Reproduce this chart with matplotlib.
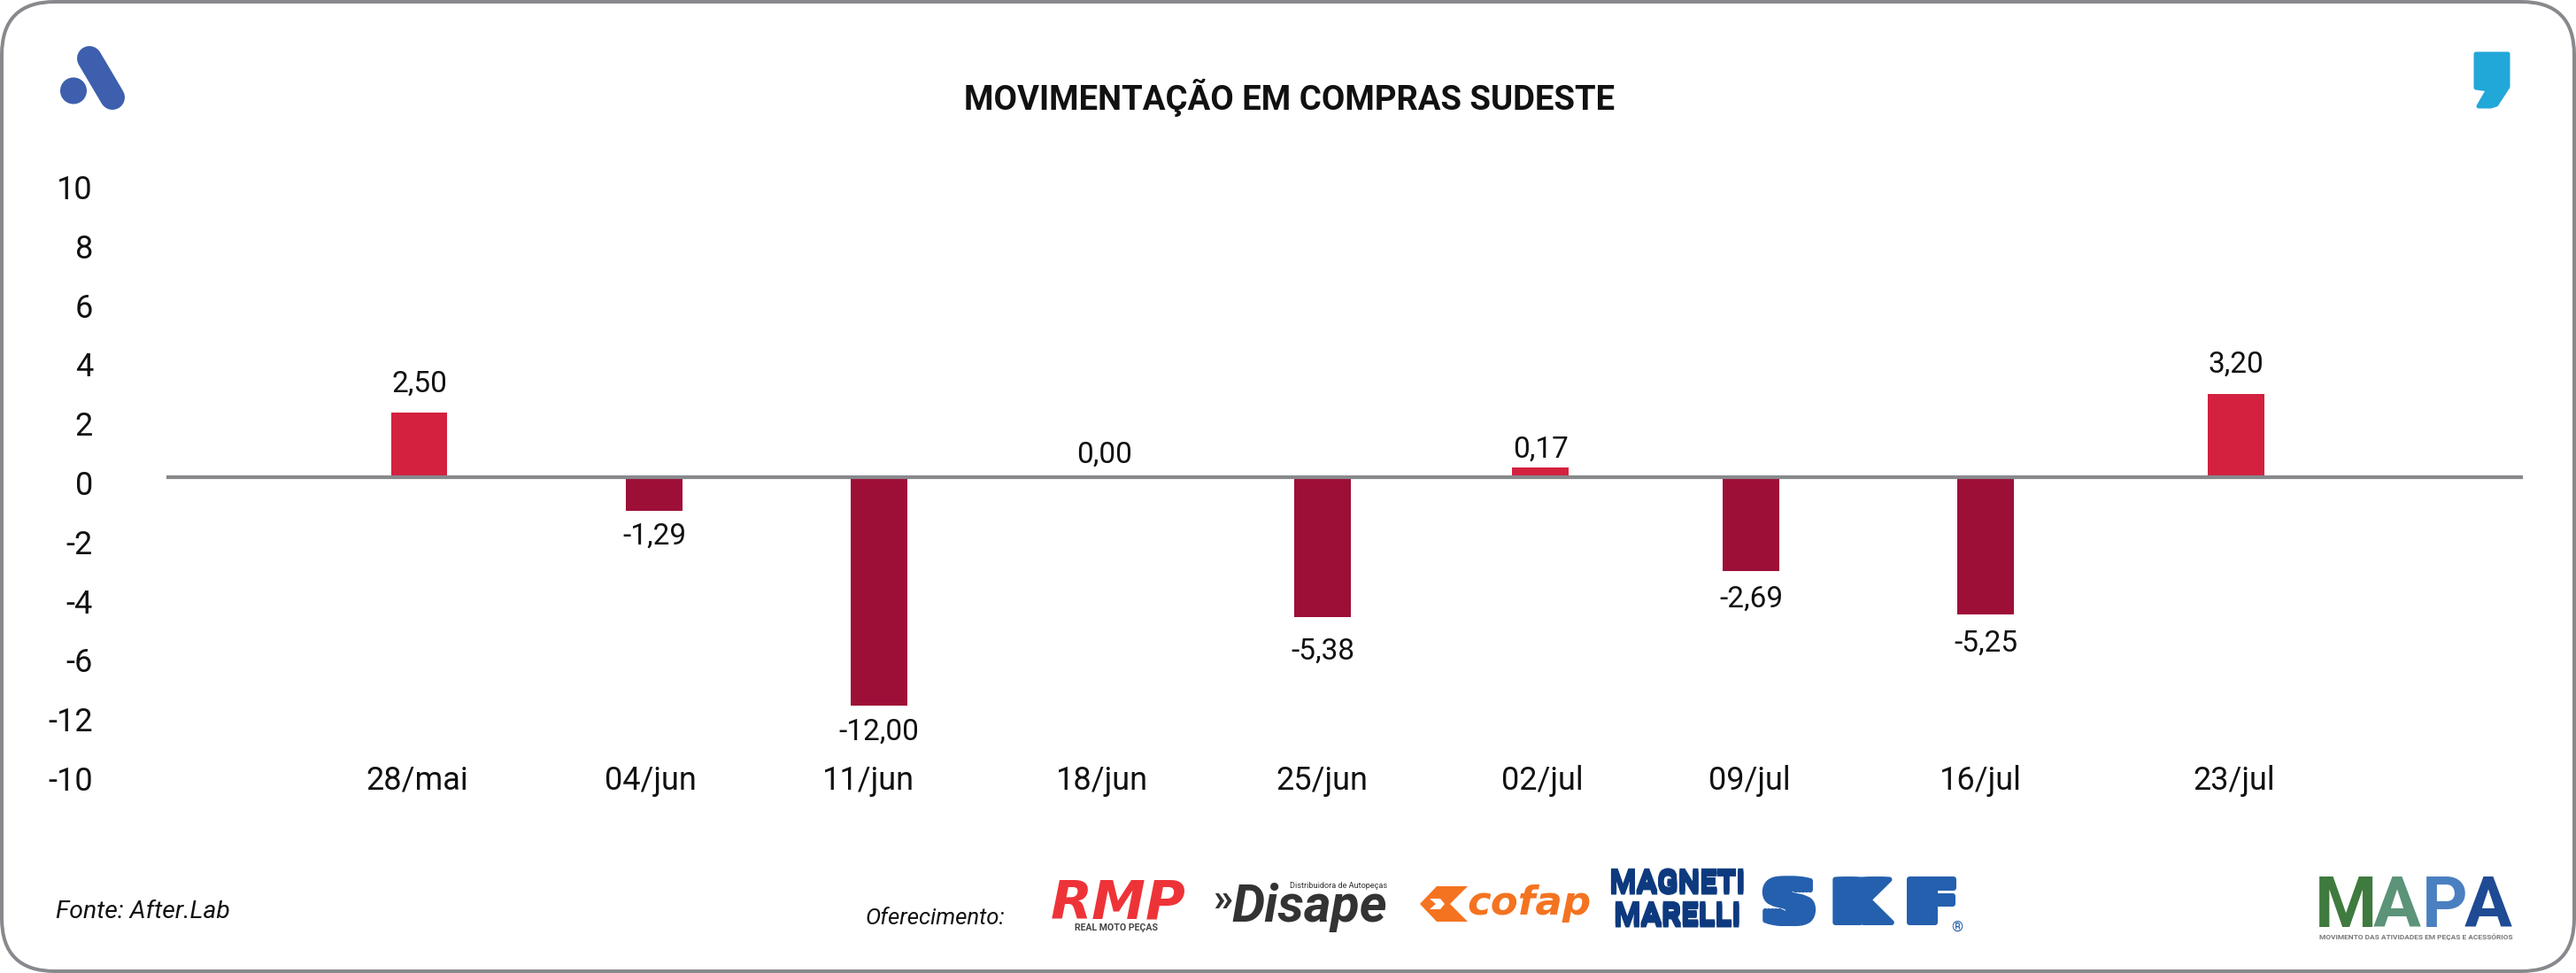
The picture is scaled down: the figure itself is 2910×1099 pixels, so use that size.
import matplotlib
matplotlib.use("Agg")
import matplotlib.pyplot as plt
import matplotlib.patheffects as pe
from matplotlib.patches import FancyBboxPatch, Circle, Polygon
from matplotlib.transforms import ScaledTranslation

# ---- data -------------------------------------------------------------
dates = ["28/mai", "04/jun", "11/jun", "18/jun", "25/jun", "02/jul", "09/jul", "16/jul", "23/jul"]
printed_values = ["2,50", "-1,29", "-12,00", "0,00", "-5,38", "0,17", "-2,69", "-5,25", "3,20"]
# bar lengths as they stand against the chart's own axis
plotted_values = [2.19, -1.14, -7.72, 0.0, -4.73, 0.34, -3.16, -4.64, 2.81]
y_ticks = [10, 8, 6, 4, 2, 0, -2, -4, -6, -8, -10]
y_tick_labels = ["10", "8", "6", "4", "2", "0", "-2", "-4", "-6", "-12", "-10"]

# ---- layout -----------------------------------------------------------
x_nudge = [0, .035, .025, .015, -.023, -.064, -.136, -.104, 0]
label_gap_px = [34, 27, 27.5, 27, 37, 21.6, 30.5, 31, 35]
xtick_shift_px = [-2, -4, -12, -2, -1, 2, -2, -6, -3]
W, H = 2910, 1099
PX = 0.72  # points per pixel at dpi 100

POS, NEG = "#d3213f", "#9e0f38"
GREY = "#88898d"
plt.rcParams["font.family"] = ["Roboto", "DejaVu Sans"]

fig = plt.figure(figsize=(W / 100, H / 100), dpi=100, facecolor="white")
ax = fig.add_axes([188 / W, 1 - 873 / H, (2850 - 188) / W, (873 - 205) / H])
ax.set_xlim(-1.1126, 9.2615)
ax.set_ylim(-10, 10)
for s in ax.spines.values():
    s.set_visible(False)

xs = [i + n for i, n in enumerate(x_nudge)]
ax.bar(xs, plotted_values, width=0.249,
       color=[POS if v >= 0 else NEG for v in plotted_values], linewidth=0, zorder=2)
ax.axhline(0, color=GREY, lw=4.2 * PX, zorder=3)

for x, v, txt, gap in zip(xs, plotted_values, printed_values, label_gap_px):
    up = not txt.startswith("-")
    off = (gap - 11) if up else -(gap + 11)
    ax.text(x, v, txt, ha="center", va="baseline", fontsize=24, color="#111111",
            transform=ax.transData + ScaledTranslation(0, off / 100, fig.dpi_scale_trans))

ax.set_yticks(y_ticks)
ax.set_yticklabels(y_tick_labels)
ax.set_xticks(xs)
ax.set_xticklabels(dates)
ax.tick_params(axis="both", length=0, labelsize=26, labelcolor="#111111")
ax.tick_params(axis="y", pad=83 * PX)
ax.tick_params(axis="x", pad=19 * PX)
for lab in ax.get_yticklabels():
    lab.set_va("center_baseline")
    lab.set_transform(lab.get_transform() + ScaledTranslation(0, -6 / 100, fig.dpi_scale_trans))
for lab, dx in zip(ax.get_xticklabels(), xtick_shift_px):
    lab.set_va("baseline")
    lab.set_transform(lab.get_transform() + ScaledTranslation(dx / 100, 0, fig.dpi_scale_trans))

# ---- overlay in pixel coordinates: frame, titles, logos ---------------
ov = fig.add_axes([0, 0, 1, 1], zorder=5)
ov.set_xlim(0, W)
ov.set_ylim(H, 0)
ov.axis("off")
ov.patch.set_alpha(0)

ov.add_patch(FancyBboxPatch((2 + 60, 2 + 60), W - 4 - 120, H - 4 - 120,
                            boxstyle="round,pad=60,rounding_size=60",
                            fc="none", ec=GREY, lw=4 * PX))

ov.text(1457, 124, "MOVIMENTAÇÃO EM COMPRAS SUDESTE", ha="center", va="baseline",
        fontsize=27.5, fontweight="bold", color="#111111")
ov.text(63, 1037, "Fonte: After.Lab", ha="left", va="baseline", fontsize=20.4,
        fontstyle="italic", color="#111111")
ov.text(978, 1044, "Oferecimento:", ha="left", va="baseline", fontsize=18.5,
        fontstyle="italic", color="#111111")

# "A" mark
BLUE = "#3d5fae"
ov.plot([101, 127], [66, 110], color=BLUE, lw=28 * PX, solid_capstyle="round")
ov.add_patch(Circle((83, 102.5), 15, fc=BLUE, ec="none"))

# comma mark
ov.add_patch(Polygon([(2797, 61), (2833, 61), (2833, 98), (2820, 118), (2814, 120),
                      (2800, 120), (2811, 101), (2797, 99)], closed=True,
                     fc="#22a7d9", ec="#22a7d9", lw=5 * PX, joinstyle="round"))

# sponsors
ov.text(1263, 1038, "RMP", ha="center", va="baseline", fontsize=44, fontweight="bold",
        fontstyle="italic", color="#ee3338", family="DejaVu Sans")
ov.text(1260.5, 1051, "REAL MOTO PEÇAS", ha="center", va="baseline", fontsize=7.6,
        fontweight="bold", color="#444444")
ov.text(1370, 1029, "»", ha="left", va="baseline", fontsize=32, fontweight="bold", color="#333333")
ov.text(1391, 1041, "Disape", ha="left", va="baseline", fontsize=42.5, fontweight="bold",
        fontstyle="italic", color="#333333")
ov.text(1567, 1003, "Distribuidora de Autopeças", ha="right", va="baseline", fontsize=6.6,
        color="#333333")

OR = "#f47321"
ov.add_patch(Polygon([(1604, 1021), (1623, 1001), (1658, 1001), (1638, 1021), (1658, 1041), (1623, 1041)],
                     closed=True, fc=OR, ec="none"))
ov.add_patch(Polygon([(1615, 1015), (1627, 1015), (1632, 1021), (1627, 1027), (1615, 1027), (1622, 1021)],
                     closed=True, fc="white", ec="none"))
ov.text(1657, 1033, "cofap", ha="left", va="baseline", fontsize=32.5, fontweight="bold",
        fontstyle="italic", color=OR, family="DejaVu Sans")


def smear(color, lw_px, offsets_px):
    return [pe.Stroke(linewidth=lw_px * PX, foreground=color, offset=(dx * PX, dy * PX))
            for dx, dy in offsets_px] + [pe.Normal()]


NAVY = "#0d3a7e"
tall = smear(NAVY, 1, [(0, -2), (0, 0), (0, 2)])
ov.text(1895, 1008, "MAGNETI", ha="center", va="baseline", fontsize=25, fontweight="bold",
        color=NAVY, path_effects=tall)
ov.text(1895, 1045, "MARELLI", ha="center", va="baseline", fontsize=25, fontweight="bold",
        color=NAVY, path_effects=tall)

SK = "#2560ae"
wide = smear(SK, 6, [(-8, 0), (-4, 0), (0, 0), (4, 0), (8, 0)])
for ch, x in zip("SKF", (2021, 2101, 2182)):
    ov.text(x, 1042, ch, ha="center", va="baseline", fontsize=48, fontweight="bold",
            color=SK, family="DejaVu Sans", path_effects=wide)
ov.text(2211, 1047, "®", ha="center", va="center", fontsize=12, color=SK)

# MAPA
for ch, x, c in zip("MAPA", (2650, 2708, 2762, 2811), ("#3f7a3e", "#5b9478", "#4a7fc0", "#1f4a94")):
    ov.text(x, 1047, ch, ha="center", va="baseline", fontsize=57 / 0.711 * PX, fontweight="bold",
            color=c)
ov.text(2729, 1061, "MOVIMENTO DAS ATIVIDADES EM PEÇAS E ACESSÓRIOS", ha="center", va="baseline",
        fontsize=6.0, fontweight="bold", color="#777777")

fig.savefig("out.png", dpi=100)
